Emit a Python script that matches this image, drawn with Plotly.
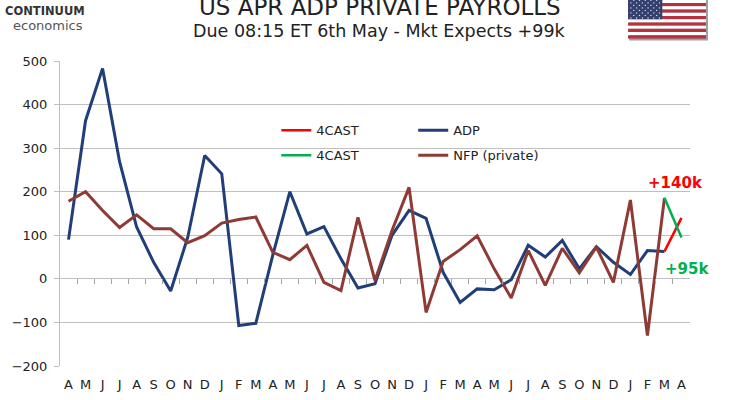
import plotly.graph_objects as go

# Apr to Apr, actuals to Mar, 4CAST for Apr
months = list("AMJJASONDJFM" * 3 + "A")
adp = [90, 363, 483, 269, 119, 38, -28, 95, 283, 241, -107, -102,
       55, 200, 103, 120, 46, -21, -11, 100, 157, 139, 15, -54,
       -23, -25, -2, 77, 50, 88, 23, 74, 38, 10, 65, 63]
nfp = [178, 200, 157, 118, 147, 115, 115, 83, 99, 128, 136, 142,
       61, 44, 77, -8, -27, 141, -4, 111, 210, -77, 40, 67,
       99, 23, -44, 65, -15, 70, 14, 73, -8, 181, -130, 186]
adp_4cast = 140
nfp_4cast = 95

x_idx = list(range(len(months)))
x_act = x_idx[:len(adp)]
x_fc = x_idx[len(adp) - 1:len(adp) + 1]

# plot area in pixels, used for the decorations around the chart
L, R, T, B = 59.5, 690, 60.5, 366
W, H = 735, 400


def px(x):
    return (x - L) / (R - L)


def py(y):
    return (B - y) / (B - T)


FONT = "DejaVu Sans"
GRID = "#BFBFBF"

fig = go.Figure()

fig.add_trace(go.Scatter(x=x_act, y=adp, name="ADP", mode="lines",
                         line=dict(color="#203F78", width=3),
                         legend="legend2", legendgroup="a"))
fig.add_trace(go.Scatter(x=x_act, y=nfp, name="NFP (private)", mode="lines",
                         line=dict(color="#8E3B35", width=3),
                         legend="legend2", legendgroup="b"))
fig.add_trace(go.Scatter(x=x_fc, y=[adp[-1], adp_4cast], name="4CAST",
                         mode="lines", line=dict(color="#FF0000", width=2.5),
                         legend="legend", legendgroup="c"))
fig.add_trace(go.Scatter(x=x_fc, y=[nfp[-1], nfp_4cast], name="4CAST",
                         mode="lines", line=dict(color="#00B050", width=2.5),
                         legend="legend", legendgroup="d"))

# tick marks on the zero line at the category boundaries
fig.add_trace(go.Scatter(x=[x_idx[0]], y=[None], xaxis="x2", showlegend=False,
                         hoverinfo="skip"))

legend_common = dict(bgcolor="rgba(0,0,0,0)", font=dict(family=FONT, size=13, color="#222"),
                     xanchor="left", yanchor="top", tracegroupgap=5,
                     itemwidth=30)

fig.update_layout(
    width=W, height=H,
    margin=dict(l=L, r=W - R, t=T, b=H - B),
    paper_bgcolor="white", plot_bgcolor="white",
    font=dict(family=FONT, size=13, color="#222"),
    xaxis=dict(range=[-0.5, len(months) - 0.5], tickvals=x_idx, ticktext=months,
               showgrid=False, zeroline=False, showline=False, automargin=False,
               ticks="outside", ticklen=6, tickcolor="rgba(0,0,0,0)",
               tickfont=dict(family=FONT, size=13, color="#222")),
    xaxis2=dict(range=[-0.5, len(months) - 0.5], overlaying="x", anchor="free",
                position=py(278), tickvals=[i + 0.5 for i in x_idx[:-1]],
                showticklabels=False, ticks="outside", ticklen=5, automargin=False,
                tickcolor="#A6A6A6", showgrid=False, zeroline=False, showline=False),
    yaxis=dict(range=[-200, 500], dtick=100, gridcolor=GRID, gridwidth=1,
               zeroline=True, zerolinecolor=GRID, zerolinewidth=1,
               showline=True, linecolor=GRID, linewidth=1, automargin=False,
               ticks="outside", ticklen=5, tickcolor=GRID, ticklabelstandoff=4,
               tickfont=dict(family=FONT, size=13, color="#222")),
    legend=dict(x=px(276), y=py(115), **legend_common),
    legend2=dict(x=px(413), y=py(115), **legend_common),
    showlegend=True,
)

annotations = [
    dict(x=px(380), y=py(6.5), text="US APR ADP PRIVATE PAYROLLS",
         font=dict(family=FONT, size=23, color="#222")),
    dict(x=px(379), y=py(30), text="Due 08:15 ET 6th May - Mkt Expects +99k",
         font=dict(family=FONT, size=17.5, color="#222")),
    dict(x=px(44), y=py(10.5), text="<b>CONTINUUM</b>",
         font=dict(family=FONT, size=11.5, color="#333")),
    dict(x=px(47), y=py(24.5), text="economics",
         font=dict(family=FONT, size=13, color="#555")),
]
for a in annotations:
    a.update(xref="paper", yref="paper", showarrow=False,
             xanchor="center", yanchor="middle")

# forecast labels
annotations.append(dict(x=x_fc[-1], y=adp_4cast, xref="x", yref="y",
                        text="<b>+%dk</b>" % adp_4cast, showarrow=False,
                        xshift=-6, yshift=35,
                        font=dict(family=FONT, size=15, color="#FF0000")))
annotations.append(dict(x=x_fc[-1], y=nfp_4cast, xref="x", yref="y",
                        text="<b>+%dk</b>" % nfp_4cast, showarrow=False,
                        xshift=6, yshift=-32,
                        font=dict(family=FONT, size=15, color="#00B050")))

# US flag top right
shapes = []
fx0, fx1, fy0, fy1 = 628, 706, -4, 38
shapes.append(dict(type="rect", xref="paper", yref="paper",
                   x0=px(fx0 + 1), x1=px(fx1 + 2), y0=py(fy1 + 2), y1=py(fy0),
                   fillcolor="#A0A0A0", line=dict(width=0)))
n_str = 13
sh = (fy1 - fy0) / n_str
for k in range(n_str):
    shapes.append(dict(type="rect", xref="paper", yref="paper",
                       x0=px(fx0), x1=px(fx1), y0=py(fy0 + (k + 1) * sh), y1=py(fy0 + k * sh),
                       fillcolor="#B8323E" if k % 2 == 0 else "white", line=dict(width=0)))
cx1, cy1 = fx0 + 0.44 * (fx1 - fx0), fy0 + 7 * sh
shapes.append(dict(type="rect", xref="paper", yref="paper",
                   x0=px(fx0), x1=px(cx1), y0=py(cy1), y1=py(fy0),
                   fillcolor="#34406E", line=dict(width=0)))
for r in range(9):
    n = 6 if r % 2 == 0 else 5
    off = 0 if r % 2 == 0 else 0.5
    for c in range(n):
        sx = fx0 + (c + 0.5 + off) * (cx1 - fx0) / 6
        sy = fy0 + (r + 0.5) * (cy1 - fy0) / 9
        shapes.append(dict(type="circle", xref="paper", yref="paper",
                           x0=px(sx - 0.7), x1=px(sx + 0.7), y0=py(sy + 0.7), y1=py(sy - 0.7),
                           fillcolor="#DDE3F0", line=dict(width=0)))

fig.update_layout(annotations=annotations, shapes=shapes)

# page body has a default 8px margin; drop it so the figure sits at the corner
fig.write_html("out.html", config={"displayModeBar": False},
               post_script="document.body.style.margin='0';")
